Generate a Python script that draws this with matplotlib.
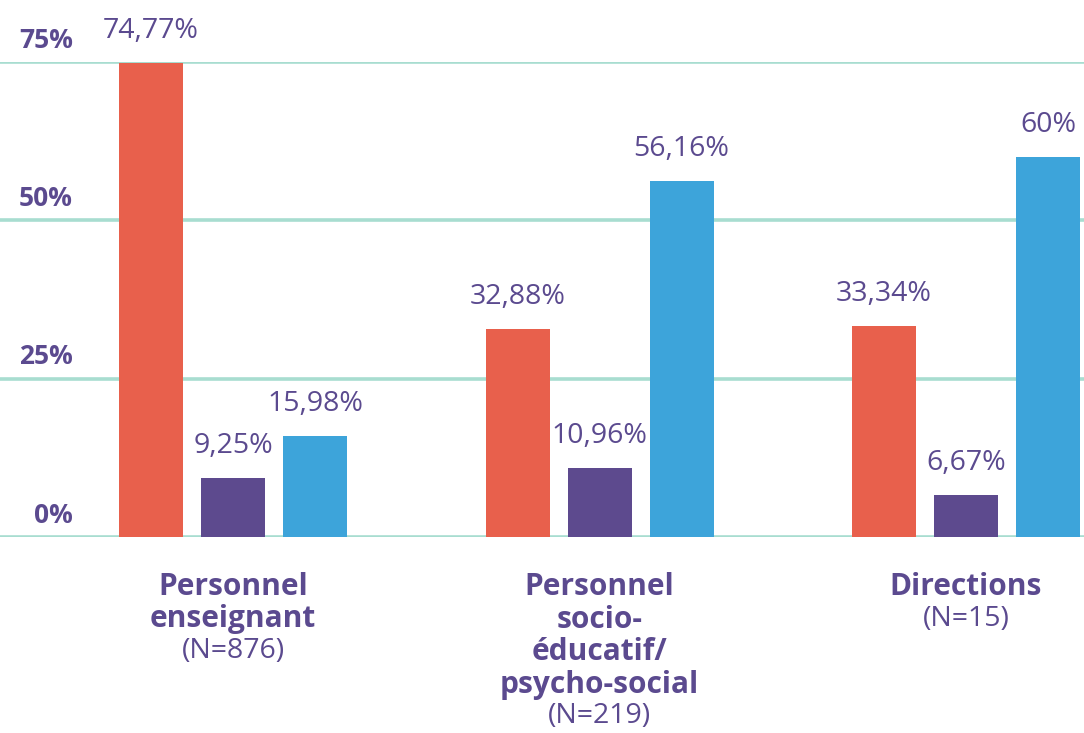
import matplotlib
matplotlib.use("Agg")
import matplotlib.pyplot as plt
from matplotlib.transforms import blended_transform_factory
import numpy as np

# Data
categories = [["Personnel", "enseignant"],
              ["Personnel", "socio-", "éducatif/", "psycho-social"],
              ["Directions"]]
counts = ["(N=876)", "(N=219)", "(N=15)"]
series_red = [74.77, 32.88, 33.34]
series_purple = [9.25, 10.96, 6.67]
series_blue = [15.98, 56.16, 60.0]
labels_red = ["74,77%", "32,88%", "33,34%"]
labels_purple = ["9,25%", "10,96%", "6,67%"]
labels_blue = ["15,98%", "56,16%", "60%"]
yticks = [0, 25, 50, 75]
ytick_labels = ["0%", "25%", "50%", "75%"]

RED = "#E8604C"
PURPLE = "#5D4A8E"
BLUE = "#3DA4DA"
TXT = "#5B4A8F"
GRID = "#A8DDD0"

W, H = 1084, 733
fig = plt.figure(figsize=(W / 100, H / 100), dpi=100)
ax = fig.add_axes([0, (H - 537) / H, 1, (537 - 62) / H])
ax.set_ylim(0, 75)
ax.set_xlim(-233 / 366.5, 2 + (W - 966) / 366.5)
ax.axis("off")

for t in yticks:
    ax.axhline(t, color=GRID, lw=2.6, zorder=0)

x = np.arange(len(series_red))
step = 82 / 366.5
width = 64 / 366.5
sers = [(series_red, labels_red, RED, -step),
        (series_purple, labels_purple, PURPLE, 0),
        (series_blue, labels_blue, BLUE, step)]
fam = ["Open Sans", "DejaVu Sans"]
for vals, labs, col, off in sers:
    ax.bar(x + off, vals, width=width, color=col, zorder=2)
    for xi, v, l in zip(x + off, vals, labs):
        ax.annotate(l, (xi, v), xytext=(0, 13), textcoords="offset points",
                    ha="center", va="bottom", fontsize=20.5, color=TXT,
                    family=fam, fontweight="normal")

# y tick labels
ytr = blended_transform_factory(fig.transFigure, ax.transData)
for t, l in zip(yticks, ytick_labels):
    ax.annotate(l, (73 / W, t), xycoords=ytr, xytext=(0, 6),
                textcoords="offset points", ha="right", va="bottom",
                fontsize=19, fontweight="bold", color=TXT, family=fam)

# category labels
ctr = blended_transform_factory(ax.transData, fig.transFigure)
for xi, lines, n in zip(x, categories, counts):
    for i, line in enumerate(lines):
        ax.text(xi, 1 - (587 + 32.5 * i) / H, line, transform=ctr,
                ha="center", va="center", fontsize=21.5, fontweight="bold",
                color=TXT, family=fam)
    i = len(lines)
    ax.text(xi, 1 - (586 + 32.5 * i) / H, n, transform=ctr,
            ha="center", va="center", fontsize=20.5, color=TXT, family=fam)

fig.savefig("out.png", dpi=100)
